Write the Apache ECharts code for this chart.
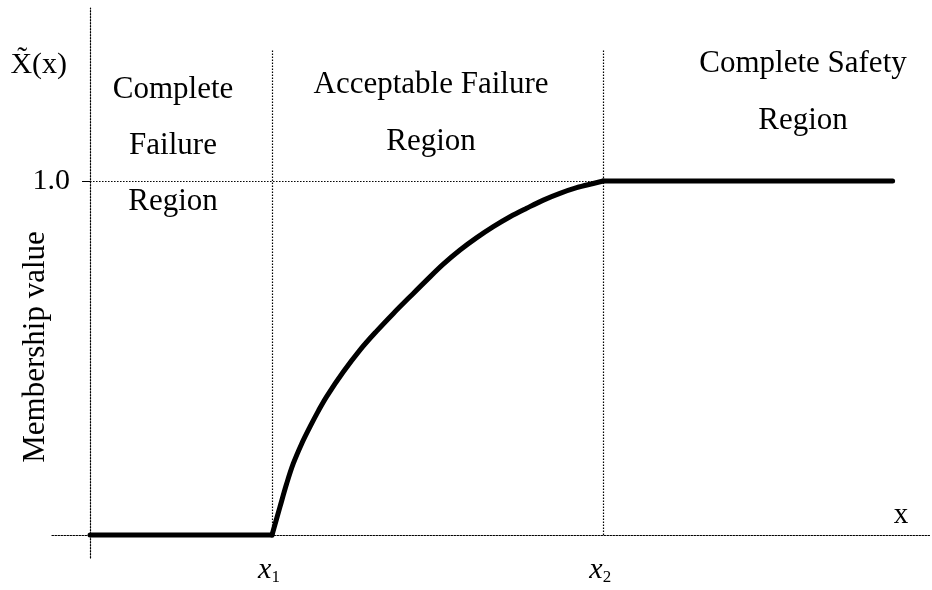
<!DOCTYPE html>
<html>
<head>
<meta charset="utf-8">
<script src="https://cdn.jsdelivr.net/npm/echarts@6/dist/echarts.min.js"></script>
<style>
  html, body { margin: 0; padding: 0; background: #fff; }
  #chart { width: 932px; height: 590px; }
</style>
</head>
<body>
<div id="chart"></div>
<script>
// membership function: 0 before x1, rises to 1 at x2, stays 1 after
var x1 = 1.0;
var x2 = 2.82;
var xStart = 0;
var xEnd = 4.41;
var guideTop = 1.37;

var curveX = [1.0, 1.044, 1.081, 1.117, 1.163, 1.209, 1.254, 1.300, 1.392, 1.484, 1.575, 1.667, 1.758, 1.850,
              1.941, 2.033, 2.125, 2.216, 2.308, 2.399, 2.491, 2.582, 2.674, 2.765, 2.82];
var curveY = [0, 0.080, 0.146, 0.202, 0.258, 0.306, 0.350, 0.391, 0.461, 0.523, 0.576, 0.626, 0.673, 0.720,
              0.765, 0.805, 0.840, 0.871, 0.899, 0.923, 0.946, 0.965, 0.981, 0.993, 1.0];

var regionNames = [
  'Complete\nFailure\nRegion',
  'Acceptable Failure\nRegion',
  'Complete Safety\nRegion'
];

var serif = 'Liberation Serif, Times New Roman, serif';
var dots = { color: '#000', width: 1.2, type: [1.5, 1.5] };

var myChart = echarts.init(document.getElementById('chart'));

var option = {
  animation: false,
  backgroundColor: '#fff',
  grid: { left: 52, right: 1, top: 8, bottom: 32, outerBoundsMode: 'none', containLabel: false },
  xAxis: {
    type: 'value',
    min: -0.209,
    max: 4.621,
    splitLine: { show: false },
    axisTick: { show: false },
    axisLine: { onZero: true, lineStyle: dots },
    name: 'x',
    nameLocation: 'end',
    nameGap: -30,
    nameTextStyle: {
      fontFamily: serif, fontSize: 29, color: '#000',
      align: 'center', verticalAlign: 'bottom', padding: [0, 0, 5, 0]
    },
    axisLabel: {
      customValues: [x1, x2],
      margin: -3,
      formatter: function (v) {
        return '{i|x}{s|' + (v === x1 ? '1' : '2') + '}';
      },
      rich: {
        i: { fontFamily: serif, fontSize: 30, fontStyle: 'italic', color: '#000' },
        s: { fontFamily: serif, fontSize: 17, color: '#000', padding: [14, 6, 0, 0] }
      }
    }
  },
  yAxis: {
    type: 'value',
    min: -0.065,
    max: 1.4887,
    splitLine: { show: false },
    axisLine: { onZero: true, lineStyle: dots },
    axisTick: { customValues: [1], length: 8, lineStyle: { color: '#000', width: 1 } },
    axisLabel: {
      customValues: [1],
      margin: -18,
      fontFamily: serif,
      fontSize: 30,
      color: '#000',
      formatter: function (v) { return v.toFixed(1); }
    },
    name: 'X\u0303(x)',
    nameLocation: 'end',
    nameGap: -72,
    nameTextStyle: {
      fontFamily: serif, fontSize: 30, color: '#000',
      align: 'right', padding: [0, 23, 0, 0]
    }
  },
  graphic: [
    {
      type: 'text', x: 36, y: 347, rotation: Math.PI / 2,
      style: { text: 'Membership value', font: '31px ' + serif, fill: '#000',
               textAlign: 'center', textVerticalAlign: 'middle' }
    },
    {
      type: 'text', x: 173, y: 62,
      style: { text: regionNames[0], font: '31px ' + serif, fill: '#000',
               textAlign: 'center', lineHeight: 56 }
    },
    {
      type: 'text', x: 431, y: 56,
      style: { text: regionNames[1], font: '31px ' + serif, fill: '#000',
               textAlign: 'center', lineHeight: 57 }
    },
    {
      type: 'text', x: 803, y: 35,
      style: { text: regionNames[2], font: '31px ' + serif, fill: '#000',
               textAlign: 'center', lineHeight: 57 }
    }
  ],
  series: [
    {
      type: 'line',
      data: [[xStart, 0], [x1, 0]],
      symbol: 'none',
      lineStyle: { color: '#000', width: 5, cap: 'round' },
      markLine: {
        silent: true,
        symbol: 'none',
        label: { show: false },
        lineStyle: dots,
        data: [
          [{ coord: [x1, 0] }, { coord: [x1, guideTop] }],
          [{ coord: [x2, 0] }, { coord: [x2, guideTop] }],
          [{ coord: [0, 1] }, { coord: [x2, 1] }]
        ]
      }
    },
    {
      type: 'line',
      data: curveX.map(function (x, i) { return [x, curveY[i]]; }),
      smooth: 0.35,
      symbol: 'none',
      lineStyle: { color: '#000', width: 5, cap: 'round', join: 'round' }
    },
    {
      type: 'line',
      data: [[x2, 1], [xEnd, 1]],
      symbol: 'none',
      lineStyle: { color: '#000', width: 5, cap: 'round' }
    }
  ]
};

myChart.setOption(option);
window.onresize = function () {
  myChart.resize();
};
</script>
</body>
</html>
